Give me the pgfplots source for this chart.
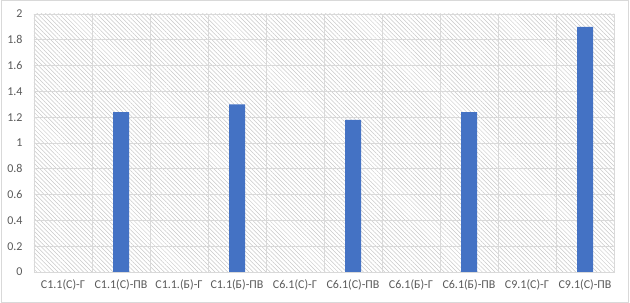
\documentclass[border=0pt]{standalone}
\usepackage{pgfplots}
\pgfplotsset{compat=1.18}
\usepackage{fontspec}
\setmainfont{Carlito}
\usetikzlibrary{patterns.meta}
\definecolor{gridgray}{RGB}{217,217,217}
\definecolor{hatch}{RGB}{200,200,200}
\definecolor{ticktext}{RGB}{89,89,89}
\definecolor{barblue}{RGB}{68,114,196}
\begin{document}
\begin{tikzpicture}
\useasboundingbox (0,0) rectangle (630bp,303bp);
\draw[gridgray, line width=1bp] (1bp,0.8bp) rectangle (628.5bp,302.2bp);
\begin{axis}[
  at={(34bp,31bp)}, anchor=south west,
  scale only axis, width=580bp, height=258bp,
  xmin=-0.5, xmax=9.5, ymin=0, ymax=2,
  ytick={0,0.2,...,2.01},
  xtick={0,...,9},
  xticklabels={{С1.1(С)-Г},{С1.1(С)-ПВ},{С1.1.(Б)-Г},{С1.1(Б)-ПВ},{С6.1(С)-Г},{С6.1(С)-ПВ},{С6.1(Б)-Г},{С6.1(Б)-ПВ},{С9.1(С)-Г},{С9.1(С)-ПВ}},
  minor x tick num=1,
  xminorgrids, ymajorgrids, xmajorgrids=false,
  grid style={gridgray, line width=0.8bp},
  minor grid style={gridgray, line width=0.8bp},
  axis line style={gridgray, line width=0.8bp},
  major tick length=0pt, minor tick length=0pt,
  tick style={draw=none},
  /pgf/number format/assume math mode=true,
  ticklabel style={font=\fontsize{12bp}{14bp}\selectfont, text=ticktext},
  yticklabel style={xshift=-8bp},
  xticklabel style={yshift=-4bp},
  axis background/.style={pattern={Lines[angle=-45, distance=3bp, line width=0.5bp]}, pattern color=hatch},
  ybar, bar width=16bp,
  axis on top=false,
]
\addplot[fill=barblue, draw=none] coordinates {(0,0) (1,1.24) (2,0) (3,1.30) (4,0) (5,1.18) (6,0) (7,1.24) (8,0) (9,1.90)};
\end{axis}
\end{tikzpicture}
\end{document}
